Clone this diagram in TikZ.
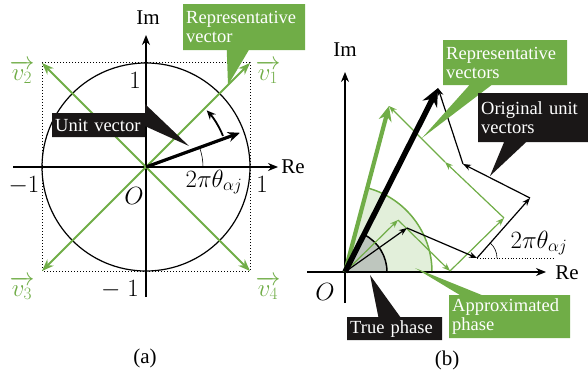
\documentclass[tikz,border=0pt]{standalone}
\usepackage{fontspec}
\setmainfont{Liberation Serif}
\usepackage{amsmath}
\usepackage{tikz}
\usetikzlibrary{arrows.meta,positioning,shapes.callouts,calc}
\definecolor{RepGreen}{RGB}{112,173,71}
\definecolor{PhaseGreen}{RGB}{226,239,218}
\definecolor{PhaseGray}{RGB}{190,198,190}
\definecolor{CallBlack}{RGB}{26,23,23}

\begin{document}
\begin{tikzpicture}[
  x=1pt,y=-1pt,
  axis/.style={-{Stealth[length=10pt,width=8pt]},line width=1.4pt},
  diag/.style={-{Stealth[length=12pt,width=9pt]},line width=2pt,RepGreen},
  unitvec/.style={-{Stealth[length=8pt,width=6pt]},line width=1.2pt},
  repvec/.style={-{Stealth[length=8pt,width=6pt]},line width=1.2pt,RepGreen},
  call/.style={rectangle callout,callout pointer width=22pt,text=white,
    align=left,inner xsep=3pt,inner ysep=1pt,anchor=north west,
    font=\rmfamily\fontsize{18.5}{19}\selectfont},
  greencall/.style={call,fill=RepGreen},
  blackcall/.style={call,fill=CallBlack},
  lbl/.style={font=\rmfamily\fontsize{21}{24}\selectfont},
  num/.style={font=\fontsize{23}{26}\selectfont},
  vlbl/.style={font=\fontsize{23}{26}\selectfont,text=RepGreen,inner sep=0pt}
]
\useasboundingbox (0,0) rectangle (588,374);

% (a)
\coordinate (O) at (146,167);
\draw[dotted,line width=1pt] (42,63) rectangle (250,271);
\draw[line width=1.2pt] (O) circle[radius=104];
\draw[axis] (13,167) -- (278,167);
\draw[axis] (146,297) -- (146,35);
\coordinate (v1) at (250,63);
\coordinate (v2) at (42,63);
\coordinate (v3) at (42,271);
\coordinate (v4) at (250,271);
\foreach \v in {v1,v2,v3,v4}
  \draw[diag] (O) -- (\v);
\coordinate (u) at ($(O)+(-20:100)$);
\draw[-{Stealth[length=12pt,width=10pt]},line width=3.2pt] (O) -- (u);
\draw[-{Stealth[length=9pt,width=8pt]},line width=1.8pt]
  ($(O)+(-22:83)$) arc[start angle=-22,end angle=-43,radius=83];
\draw[line width=0.6pt] ($(O)+(57,0)$) arc[start angle=0,end angle=-20,radius=57];

\node[lbl] (ima) at (148,18) {Im};
\node[lbl] (rea) at (293,167) {Re};
\node[num] (onea) at (135,80) {$1$};
\node[num] (oner) at (262,184) {$1$};
\node[num] (monel) at (24,186) {$-1$};
\node[num] (moneb) at (120,290) {$-\;1$};
\node[num] (oa) at (134,196) {$O$};
\node[num] (tha) at (214,182) {$2\pi\theta_{\alpha j}$};
\node[vlbl] (lv1) at (268,72) {$\overrightarrow{v_1}$};
\node[vlbl] (lv2) at (22,72) {$\overrightarrow{v_2}$};
\node[vlbl] (lv3) at (22,288) {$\overrightarrow{v_3}$};
\node[vlbl] (lv4) at (268,288) {$\overrightarrow{v_4}$};

\node[greencall,text width=116pt,minimum height=46pt,
  callout absolute pointer={(228,85)}] (repa) at (183,4) {Representative\\vector};
\node[blackcall,text width=87pt,minimum height=24pt,
  callout absolute pointer={(189,146)}] (unita) at (52,113) {Unit vector};
\node[lbl] (capa) at (145,358) {(a)};

% (b)
\coordinate (Ob) at (345,272);
\fill[PhaseGreen] (Ob) -- ++(87,0) arc[start angle=0,end angle=-75,radius=87] -- cycle;
\fill[PhaseGray] (Ob) -- ++(42,0) arc[start angle=0,end angle=-63,radius=42] -- cycle;
\draw[RepGreen,line width=1.5pt] ($(Ob)+(87,0)$) arc[start angle=0,end angle=-75,radius=87];
\draw[line width=1.5pt] ($(Ob)+(42,0)$) arc[start angle=0,end angle=-63,radius=42];
\draw[axis] (307,272) -- (546,272);
\draw[axis] (345,303) -- (345,72);

\coordinate (b1) at (407,228);
\coordinate (b2) at (477,258);
\coordinate (b3) at (530,198);
\coordinate (b4) at (463,164);
\coordinate (b5) at (438,88);
\coordinate (g1) at (398,220);
\coordinate (g2) at (450,271);
\coordinate (g3) at (504,218);
\coordinate (g4) at (445,162);
\coordinate (g5) at (389,106);

\draw[dotted,line width=0.8pt] (b2) -- ++(76,0);
\draw[line width=0.6pt] ($(b2)+(20,0)$) arc[start angle=0,end angle=-48.5,radius=20];

\draw[repvec] (Ob) -- (g1);
\draw[repvec] (g1) -- (g2);
\draw[repvec] (g2) -- (g3);
\draw[repvec] (g3) -- (g4);
\draw[repvec] (g4) -- (g5);
\draw[unitvec] (Ob) -- (b1);
\draw[unitvec] (b1) -- (b2);
\draw[unitvec] (b2) -- (b3);
\draw[unitvec] (b3) -- (b4);
\draw[unitvec] (b4) -- (b5);

\draw[-{Stealth[length=15pt,width=13pt]},line width=4.2pt,RepGreen] (Ob) -- (g5);
\draw[-{Stealth[length=18pt,width=16pt]},line width=5.5pt] (Ob) -- (b5);

\node[lbl] (imb) at (345,50) {Im};
\node[lbl] (reb) at (567,273) {Re};
\node[num] (ob) at (325,292) {$O$};
\node[num] (thb) at (539,243) {$2\pi\theta_{\alpha j}$};

\node[greencall,text width=118pt,minimum height=45pt,
  callout absolute pointer={(422,138)}] (repb) at (443,40) {Representative\\vectors};
\node[blackcall,text width=104pt,minimum height=49pt,
  callout absolute pointer={(490,176)}] (origb) at (478,93) {Original unit\\vectors};
\node[blackcall,text width=89pt,minimum height=23pt,
  callout absolute pointer={(370,275)}] (trueb) at (347,317) {True phase};
\node[greencall,text width=115pt,minimum height=43pt,
  callout absolute pointer={(415,268)}] (apprb) at (449,295) {Approximated\\phase};
\node[lbl] (capb) at (447,360) {(b)};
\end{tikzpicture}
\end{document}
